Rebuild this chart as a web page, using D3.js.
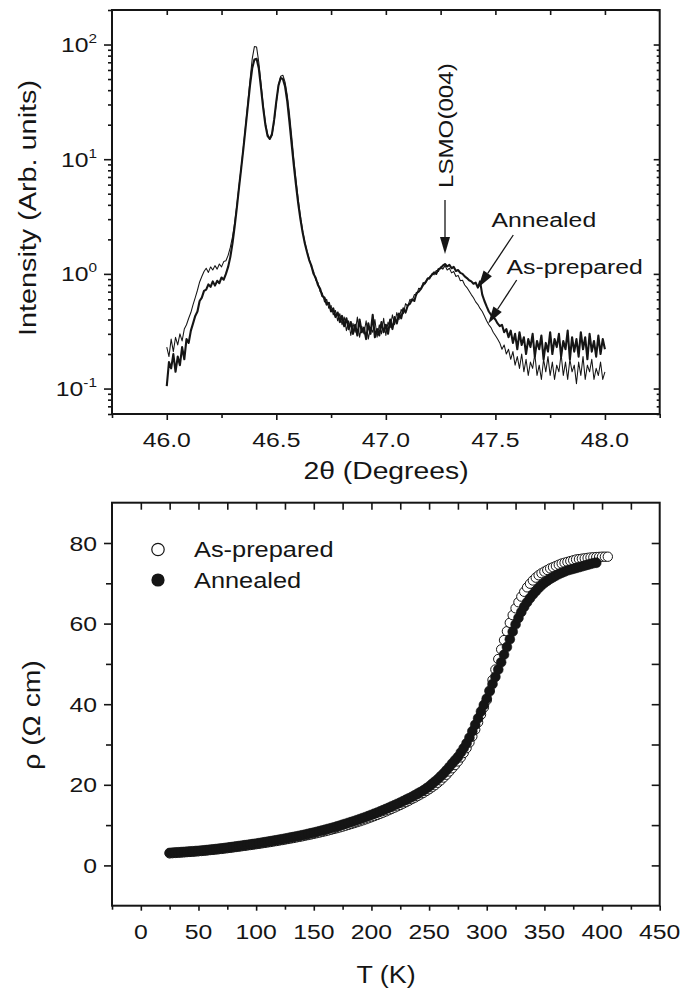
<!DOCTYPE html>
<html><head><meta charset="utf-8">
<script src="https://cdn.jsdelivr.net/npm/d3@7"></script>
<style>body{margin:0;background:#fff}svg{display:block}</style>
</head><body>
<svg id="c" width="696" height="992"></svg>
<script>
// ---------- DATA ----------
// XRD scan grid (2θ, degrees)
const thetaStart = 46.0, thetaStep = 0.01, thetaCount = 201;
const xrdAnnealed = [0.105,0.17,0.15,0.20,0.14,0.19,0.16,0.23,0.18,0.27,
0.25,0.32,0.37,0.43,0.47,0.58,0.62,0.71,0.73,0.81,
0.77,0.86,0.79,0.87,0.83,0.93,0.89,1.0,1.15,1.4,
1.85,2.6,3.8,5.7,8.4,12.5,19,29,44,62,
74,75,62,42,28,20,16,15,16.5,22,
32,44,51,50,43,32,21,13.5,8.8,5.9,
4.1,3.0,2.3,1.85,1.55,1.32,1.18,1.0,0.92,0.80,
0.74,0.64,0.62,0.54,0.56,0.47,0.50,0.42,0.46,0.38,
0.43,0.35,0.41,0.33,0.38,0.30,0.36,0.29,0.40,0.31,
0.34,0.27,0.37,0.30,0.44,0.28,0.33,0.29,0.38,0.31,
0.36,0.30,0.40,0.33,0.42,0.37,0.45,0.41,0.50,0.46,
0.53,0.55,0.60,0.58,0.68,0.70,0.74,0.80,0.84,0.90,
0.93,0.98,1.03,1.0,1.10,1.12,1.18,1.22,1.16,1.20,
1.12,1.15,1.06,1.08,1.02,1.0,0.95,0.92,0.88,0.86,
0.82,0.84,0.76,0.86,0.66,0.58,0.52,0.47,0.44,0.42,
0.40,0.37,0.35,0.36,0.31,0.33,0.28,0.32,0.25,0.30,
0.22,0.31,0.24,0.28,0.20,0.27,0.23,0.30,0.19,0.26,
0.22,0.29,0.18,0.25,0.21,0.31,0.20,0.27,0.23,0.30,
0.19,0.26,0.22,0.32,0.18,0.28,0.21,0.27,0.19,0.31,
0.22,0.28,0.18,0.30,0.21,0.26,0.19,0.29,0.20,0.27,
0.22];
const xrdPrepared = [0.23,0.19,0.27,0.21,0.28,0.24,0.30,0.26,0.33,0.36,
0.41,0.46,0.54,0.62,0.72,0.85,0.95,1.05,1.12,1.03,
1.15,1.08,1.18,1.10,1.22,1.15,1.28,1.30,1.45,1.7,
2.1,2.8,4.0,5.9,8.6,13,20,31,49,75,
96,95,70,46,30,21,16.5,15,16,21,
31,44,53,54,47,36,25,16,10,6.6,
4.5,3.2,2.4,1.9,1.58,1.35,1.15,1.05,0.88,0.84,
0.70,0.68,0.57,0.60,0.50,0.53,0.44,0.48,0.39,0.45,
0.36,0.42,0.32,0.39,0.29,0.37,0.31,0.42,0.28,0.35,
0.30,0.39,0.27,0.34,0.31,0.40,0.28,0.36,0.30,0.41,
0.29,0.38,0.34,0.44,0.36,0.46,0.40,0.49,0.45,0.55,
0.52,0.60,0.58,0.66,0.65,0.75,0.74,0.84,0.82,0.92,
0.90,1.0,0.98,1.07,1.05,1.15,1.10,1.18,1.08,1.12,
1.02,1.05,0.95,0.97,0.87,0.88,0.80,0.76,0.71,0.66,
0.62,0.57,0.54,0.50,0.47,0.43,0.39,0.36,0.34,0.31,
0.29,0.27,0.25,0.22,0.24,0.20,0.22,0.18,0.21,0.16,
0.19,0.15,0.20,0.14,0.18,0.13,0.17,0.15,0.20,0.13,
0.16,0.12,0.18,0.14,0.19,0.13,0.17,0.12,0.16,0.14,
0.20,0.13,0.17,0.12,0.18,0.14,0.16,0.11,0.17,0.13,
0.19,0.12,0.16,0.14,0.18,0.12,0.15,0.13,0.17,0.12,
0.14];
const thetaTickLabels = [46.0, 46.5, 47.0, 47.5, 48.0];
const intensityTickLabels = [0.1, 1, 10, 100];

// Resistivity: temperature grid (K, 2.5 K steps) and ρ (Ω cm)
const tempAnnealed = d3.range(25, 395.1, 2.5);
const rhoAnnealed = [3.1,3.15,3.2,3.25,3.3,3.35,3.4,3.45,3.5,3.56,
3.62,3.68,3.75,3.82,3.9,3.97,4.05,4.13,4.22,4.31,
4.4,4.5,4.6,4.7,4.8,4.9,5.0,5.1,5.2,5.31,
5.42,5.53,5.65,5.76,5.88,6.0,6.12,6.25,6.38,6.51,
6.65,6.78,6.92,7.06,7.2,7.35,7.5,7.66,7.82,7.98,
8.15,8.32,8.5,8.68,8.87,9.06,9.25,9.45,9.65,9.87,
10.1,10.32,10.55,10.77,11.0,11.25,11.5,11.75,12.0,12.27,
12.55,12.82,13.1,13.4,13.7,14.0,14.3,14.62,14.95,15.27,
15.6,15.95,16.3,16.65,17.0,17.4,17.8,18.2,18.6,19.1,
19.6,20.2,20.8,21.4,22.1,22.8,23.6,24.4,25.3,26.1,
26.9,28.0,29.1,30.3,31.7,33.3,34.9,36.5,38.2,39.8,
41.4,43.2,45.0,46.8,48.6,50.4,52.3,54.2,56.1,58.0,
59.8,61.4,62.9,64.2,65.3,66.3,67.2,68.0,68.8,69.5,
70.1,70.6,71.1,71.5,71.9,72.3,72.6,72.9,73.2,73.4,
73.6,73.8,74.0,74.2,74.4,74.6,74.8,75.0,75.1];
const tempPrepared = d3.range(25, 405.1, 2.5);
const rhoPrepared = [3.0,3.05,3.1,3.15,3.2,3.25,3.3,3.35,3.4,3.46,
3.52,3.58,3.65,3.72,3.8,3.87,3.95,4.02,4.1,4.19,
4.28,4.37,4.47,4.56,4.66,4.76,4.86,4.96,5.06,5.16,
5.27,5.37,5.48,5.59,5.7,5.81,5.93,6.05,6.17,6.29,
6.42,6.55,6.68,6.81,6.95,7.09,7.23,7.38,7.53,7.68,
7.84,8.0,8.16,8.33,8.5,8.68,8.86,9.05,9.24,9.44,
9.64,9.85,10.06,10.28,10.5,10.73,10.96,11.2,11.45,11.71,
11.97,12.24,12.52,12.81,13.1,13.4,13.7,14.02,14.35,14.67,
15.0,15.35,15.7,16.07,16.45,16.82,17.2,17.6,18.0,18.45,
18.9,19.4,19.9,20.5,21.1,21.8,22.5,23.3,24.1,24.9,
25.8,26.8,27.9,29.1,30.5,32.0,33.7,35.5,37.4,39.2,
41.0,43.4,46.0,48.6,51.2,53.6,55.9,58.1,60.2,62.1,
63.8,65.3,66.7,67.9,69.0,69.9,70.7,71.4,72.0,72.5,
72.9,73.3,73.7,74.0,74.3,74.6,74.9,75.1,75.3,75.5,
75.7,75.9,76.0,76.1,76.2,76.3,76.4,76.45,76.5,76.55,
76.6,76.6,76.6];
const tempTickLabels = [0,50,100,150,200,250,300,350,400,450];
const rhoTickLabels = [0,20,40,60,80];

// ---------- DRAWING ----------
const svg = d3.select('#c');
const FONT = "'Liberation Sans', Arial, Helvetica, sans-serif";
const INK = '#151515';
const SX = 1.18;

function txt(x, y, s, opt) {
  opt = opt || {};
  const t = svg.append('text')
    .attr('transform', `translate(${x},${y})` + (opt.rot ? ` rotate(${opt.rot})` : '') + ` scale(${opt.sx || SX},1)`)
    .attr('font-family', FONT).attr('font-size', opt.size || 21)
    .attr('fill', INK).attr('text-anchor', opt.anchor || 'start');
  if (s !== null) t.text(s);
  return t;
}
function ticks(axis, tx, ty) {
  const g = svg.append('g').attr('transform', `translate(${tx},${ty})`).call(axis);
  g.select('.domain').remove();
  g.selectAll('text').remove();
  g.selectAll('line').attr('stroke', INK).attr('stroke-width', 1.6);
  return g;
}
function arrow(x1, y1, x2, y2, hl, hw) {
  const a = Math.atan2(y2 - y1, x2 - x1);
  const bx = x2 - hl * Math.cos(a), by = y2 - hl * Math.sin(a);
  svg.append('line').attr('x1', x1).attr('y1', y1).attr('x2', bx).attr('y2', by)
    .attr('stroke', INK).attr('stroke-width', 1.3);
  const px = -Math.sin(a) * hw / 2, py = Math.cos(a) * hw / 2;
  svg.append('path').attr('d', `M${x2},${y2}L${bx + px},${by + py}L${bx - px},${by - py}Z`).attr('fill', INK);
}

// ===== Top panel: XRD =====
const L = 112, R = 659.7;
const T1 = 10, B1 = 414;
const xT = d3.scaleLinear().domain([45.75, 48.25]).range([L, R]);
const yT = d3.scaleLog().domain([0.06, 200]).range([B1, T1]);

const thetaGrid = d3.range(thetaCount).map(i => thetaStart + i * thetaStep);
const line1 = d3.line().x(d => xT(d[0])).y(d => yT(d[1]));
svg.append('path').datum(thetaGrid.map((t, i) => [t, xrdAnnealed[i]]))
  .attr('d', line1).attr('fill', 'none').attr('stroke', INK).attr('stroke-width', 2.1).attr('stroke-linejoin', 'round');
svg.append('path').datum(thetaGrid.map((t, i) => [t, xrdPrepared[i]]))
  .attr('d', line1).attr('fill', 'none').attr('stroke', INK).attr('stroke-width', 1.05).attr('stroke-linejoin', 'round');

const logMinor = [];
for (let d = -2; d <= 2; d++) for (let m = 2; m <= 9; m++) {
  const v = m * Math.pow(10, d);
  if (v >= 0.06 && v <= 200) logMinor.push(v);
}
const thetaQuarter = d3.range(46, 48.01, 0.25);
ticks(d3.axisBottom(xT).tickValues(thetaTickLabels).tickSize(6), 0, B1);
ticks(d3.axisBottom(xT).tickValues([45.75, 46.25, 46.75, 47.25, 47.75, 48.25]).tickSize(4), 0, B1);
ticks(d3.axisBottom(xT).tickValues(thetaQuarter).tickSize(5), 0, T1);
ticks(d3.axisLeft(yT).tickValues(intensityTickLabels).tickSize(8), L, 0);
ticks(d3.axisLeft(yT).tickValues(logMinor).tickSize(4), L, 0);
ticks(d3.axisLeft(yT).tickValues(intensityTickLabels).tickSize(6), R, 0);
ticks(d3.axisLeft(yT).tickValues(logMinor).tickSize(3), R, 0);
svg.append('rect').attr('x', L).attr('y', T1).attr('width', R - L).attr('height', B1 - T1)
  .attr('fill', 'none').attr('stroke', INK).attr('stroke-width', 2);

thetaTickLabels.forEach(v => txt(xT(v), 447, d3.format('.1f')(v), {anchor: 'middle'}));
intensityTickLabels.forEach(v => {
  const e = Math.round(Math.log10(v));
  const t = txt(97, yT(v) + 7.5, null, {anchor: 'end'});
  t.append('tspan').text('10');
  t.append('tspan').attr('font-size', 13).attr('dy', -9).text(e < 0 ? '-' + (-e) : String(e));
});
txt(386, 479, '2θ (Degrees)', {anchor: 'middle', size: 24});
txt(36, 208, 'Intensity (Arb. units)', {anchor: 'middle', size: 24, rot: -90, sx: 1.2});

// annotations
txt(453, 188, 'LSMO(004)', {rot: -90, sx: 1.15});
arrow(xT(47.27), 200, xT(47.27), 254, 17, 10);
txt(491.5, 226.5, 'Annealed');
arrow(513.3, 235, 478.3, 287.5, 17, 10);
txt(506.5, 273.5, 'As-prepared');
arrow(516.7, 280, 488.3, 323.5, 17, 10);

// ===== Bottom panel: resistivity =====
const T2 = 502.7, B2 = 905.7;
const xB = d3.scaleLinear().domain([-25, 450]).range([L, R]);
const yB = d3.scaleLinear().domain([-10, 90]).range([B2, T2]);

svg.append('g').selectAll('circle').data(tempPrepared.map((t, i) => [t, rhoPrepared[i]]))
  .join('circle').attr('cx', d => xB(d[0])).attr('cy', d => yB(d[1])).attr('r', 4.7)
  .attr('fill', '#fff').attr('stroke', INK).attr('stroke-width', 1);
svg.append('g').selectAll('circle').data(tempAnnealed.map((t, i) => [t, rhoAnnealed[i]]))
  .join('circle').attr('cx', d => xB(d[0])).attr('cy', d => yB(d[1])).attr('r', 4.9)
  .attr('fill', INK).attr('stroke', INK).attr('stroke-width', 0.6);

ticks(d3.axisBottom(xB).tickValues(tempTickLabels).tickSize(5), 0, B2);
ticks(d3.axisBottom(xB).tickValues(d3.range(-25, 450, 50)).tickSize(4), 0, B2);
ticks(d3.axisBottom(xB).tickValues(d3.range(0, 450, 25)).tickSize(7), 0, T2);
ticks(d3.axisLeft(yB).tickValues(rhoTickLabels).tickSize(8), L, 0);
ticks(d3.axisLeft(yB).tickValues([10, 30, 50, 70]).tickSize(6), L, 0);
ticks(d3.axisLeft(yB).tickValues(d3.range(0, 81, 10)).tickSize(8), R, 0);
svg.append('rect').attr('x', L).attr('y', T2).attr('width', R - L).attr('height', B2 - T2)
  .attr('fill', 'none').attr('stroke', INK).attr('stroke-width', 2);

tempTickLabels.forEach(v => txt(xB(v), 939, String(v), {anchor: 'middle'}));
rhoTickLabels.forEach(v => txt(97, yB(v) + 7.5, String(v), {anchor: 'end'}));
txt(386, 983, 'T (K)', {anchor: 'middle', size: 24, sx: 1.12});
txt(39.5, 715, 'ρ (Ω cm)', {anchor: 'middle', size: 24, rot: -90});

// legend
svg.append('circle').attr('cx', 158).attr('cy', 549.5).attr('r', 6.2)
  .attr('fill', '#fff').attr('stroke', INK).attr('stroke-width', 1.2);
svg.append('circle').attr('cx', 158).attr('cy', 580).attr('r', 6.6).attr('fill', INK);
txt(194, 556.5, 'As-prepared', {size: 21.5});
txt(194, 588, 'Annealed', {size: 21.5});
</script>
</body></html>
